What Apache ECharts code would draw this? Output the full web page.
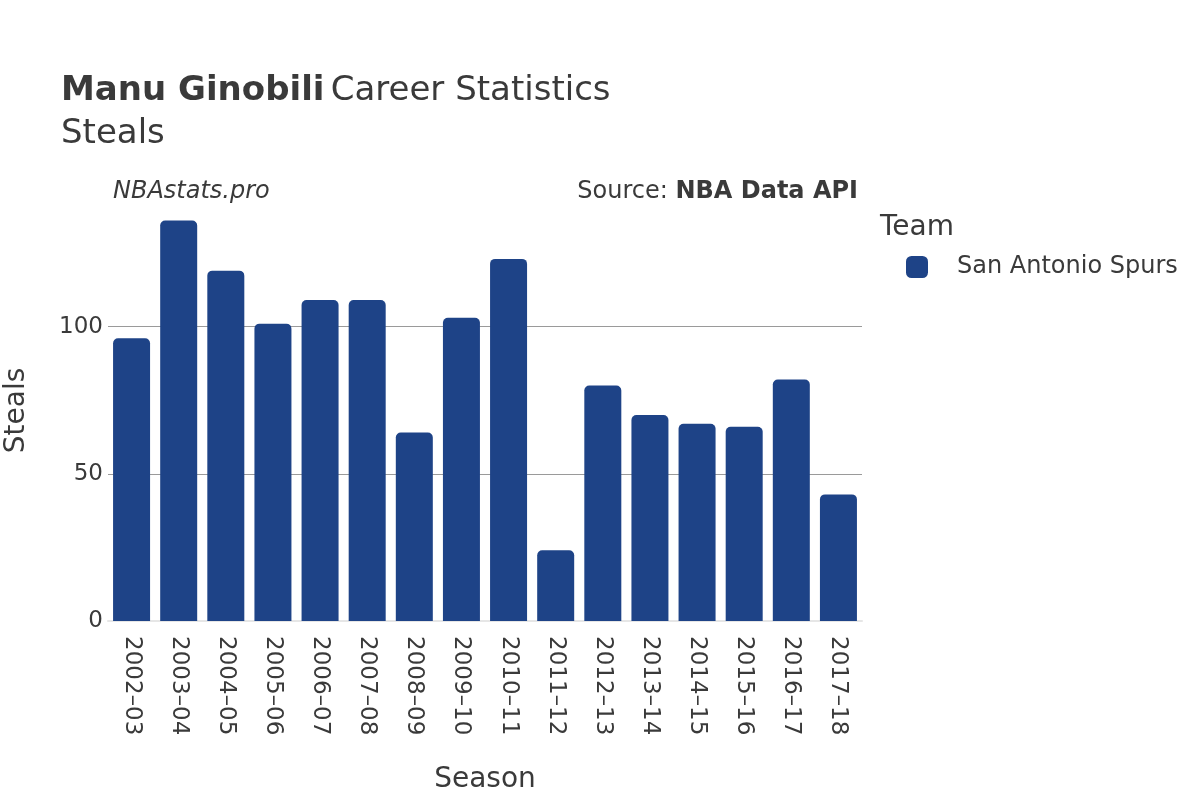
<!DOCTYPE html>
<html>
<head>
  <meta charset="utf-8"/>
  <title>Manu Ginobili Steals</title>
  <script src="https://cdn.jsdelivr.net/npm/echarts@6/dist/echarts.min.js"></script>
  <style>
    html, body { margin: 0; padding: 0; background: #fff; }
  </style>
</head>
<body>
<div id="main" style="width: 1200px;height: 800px"></div>
<script type="text/javascript">
  // data
  var seasons = ['2002–03', '2003–04', '2004–05', '2005–06', '2006–07', '2007–08', '2008–09', '2009–10',
    '2010–11', '2011–12', '2012–13', '2013–14', '2014–15', '2015–16', '2016–17', '2017–18'];
  var steals = [96, 136, 119, 101, 109, 109, 64, 103, 123, 24, 80, 70, 67, 66, 82, 43];
  var yTicks = [0, 50, 100];
  var teamName = 'San Antonio Spurs';

  var font = 'DejaVu Sans';
  var txt = '#3a3a3a';
  var barColor = '#1e4387';

  var myChart = echarts.init(document.getElementById('main'));

  myChart.setOption({
    backgroundColor: '#fff',
    textStyle: { fontFamily: font },
    title: [
      {
        text: '{b|Manu Ginobili} {n|Career Statistics}\n{n|Steals}',
        left: 61,
        top: 70,
        padding: 0,
        textStyle: {
          rich: {
            b: { fontFamily: font, fontWeight: 'bold', fontSize: 34, color: txt, lineHeight: 43 },
            n: { fontFamily: font, fontWeight: 'normal', fontSize: 34, color: txt, lineHeight: 43 }
          }
        }
      },
      {
        text: 'NBAstats.pro',
        left: 113,
        top: 180,
        padding: 0,
        textStyle: { fontFamily: font, fontStyle: 'italic', fontWeight: 'normal', fontSize: 24, color: txt }
      },
      {
        text: '{n|Source: }{b|NBA Data API}',
        right: 342,
        top: 180,
        padding: 0,
        textStyle: {
          rich: {
            n: { fontFamily: font, fontWeight: 'normal', fontSize: 24, color: txt },
            b: { fontFamily: font, fontWeight: 'bold', fontSize: 24, color: txt }
          }
        }
      },
      {
        text: 'Team',
        left: 880,
        top: 214,
        padding: 0,
        textStyle: { fontFamily: font, fontWeight: 'normal', fontSize: 28, color: txt }
      }
    ],
    legend: {
      left: 906,
      top: 255,
      padding: 0,
      itemWidth: 22,
      itemHeight: 22,
      itemGap: 10,
      icon: 'roundRect',
      textStyle: { fontFamily: font, fontSize: 24, color: txt, padding: [0, 0, 0, 24] },
      data: [teamName]
    },
    grid: {
      left: 108,
      right: 338,
      top: 200,
      bottom: 179,
      containLabel: false,
      outerBoundsMode: 'none'
    },
    xAxis: {
      type: 'category',
      data: seasons,
      name: 'Season',
      nameLocation: 'middle',
      nameGap: 145,
      nameTextStyle: { fontFamily: font, fontSize: 28, color: txt },
      axisLine: { show: true, lineStyle: { color: '#e6e6e6', width: 2 } },
      axisTick: { show: false },
      axisLabel: {
        rotate: -90,
        interval: 0,
        margin: 15,
        fontFamily: font,
        fontSize: 23,
        color: txt
      }
    },
    yAxis: {
      type: 'value',
      min: 0,
      max: 143,
      interval: 50,
      name: 'Steals',
      nameLocation: 'middle',
      nameGap: 77,
      nameRotate: 90,
      nameTextStyle: { fontFamily: font, fontSize: 28, color: txt },
      axisLine: { show: false },
      axisTick: { show: false },
      axisLabel: {
        margin: 5,
        fontFamily: font,
        fontSize: 23,
        color: txt,
        formatter: function (v) {
          return yTicks.indexOf(v) >= 0 ? String(v) : '';
        }
      },
      splitLine: { show: true, showMinLine: false, showMaxLine: false, lineStyle: { color: '#9a9a9a', width: 1 } }
    },
    series: [
      {
        name: teamName,
        type: 'bar',
        data: steals,
        barWidth: 37,
        itemStyle: { color: barColor, borderRadius: [5, 5, 0, 0] }
      }
    ]
  });
</script>
</body>
</html>
